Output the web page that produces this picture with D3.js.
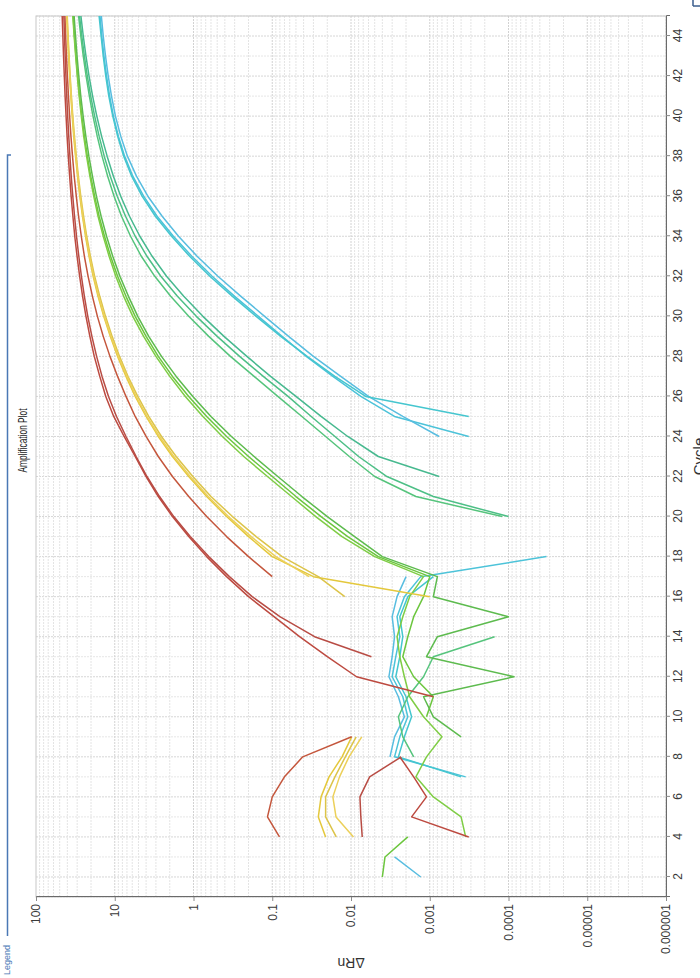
<!DOCTYPE html>
<html>
<head>
<meta charset="utf-8">
<script src="https://cdn.jsdelivr.net/npm/d3@7/dist/d3.min.js"></script>
<style>
  body { margin: 0; background: #fff; }
  svg { display: block; }
  text { font-family: "Liberation Sans", Arial, sans-serif; }
</style>
</head>
<body>
<svg id="chart" width="700" height="978"></svg>
<script>
// Cycle numbers (x categories) and tick labels
const cycles = [1,2,3,4,5,6,7,8,9,10,11,12,13,14,15,16,17,18,19,20,21,22,23,24,25,26,27,28,29,30,31,32,33,34,35,36,37,38,39,40,41,42,43,44,45];
const cycleTicks = [2,4,6,8,10,12,14,16,18,20,22,24,26,28,30,32,34,36,38,40,42,44];
const rnTicks = [100,10,1,0.1,0.01,0.001,0.0001,0.00001,0.000001];
const rnTickLabels = ["100","10","1","0.1","0.01","0.001","0.0001","0.00001","0.000001"];

// ΔRn per cycle for each well (null = not plotted on the log scale)
const redA = [null,null,null,0.081,0.115,0.10,0.07,0.041,0.0098,null,null,null,null,null,null,null,0.10,0.20,0.38,0.68,1.15,1.85,2.8,4.0,5.5,7.2,9.2,11.5,14,16.6,19.2,21.8,24.3,26.6,28.8,30.8,32.7,34.4,36,37.4,38.7,39.9,41,42,42.9];
const redB = [null,null,null,0.00032,0.0017,0.0011,0.0016,0.0024,null,null,0.0009,0.0085,0.02,0.045,0.095,0.2,0.38,0.68,1.15,1.85,2.8,4.0,5.5,7.6,10.3,13,15.5,18.2,20.7,23.2,25.6,27.9,30.1,32.2,34,35.8,37.4,38.9,40.3,41.5,42.7,43.7,44.7,45.6,46.5];
const redC = [null,null,null,0.0072,0.0075,0.0077,0.0058,0.0023,null,null,null,null,0.0055,0.029,0.08,0.18,0.35,0.64,1.1,1.78,2.7,3.9,5.35,7.2,9.5,12,14.5,17,19.5,22,24.3,26.5,28.6,30.6,32.4,34.1,35.7,37.1,38.4,39.6,40.7,41.7,42.6,43.5,44.3];
const yellowA = [null,null,null,0.021,0.026,0.024,0.019,0.013,0.0098,null,null,null,null,null,null,0.001,0.03,0.1,0.2,0.38,0.68,1.15,1.85,2.8,4.0,5.5,7.2,9.2,11.4,13.8,16.3,18.8,21.2,23.5,25.7,27.8,29.7,31.5,33.2,34.7,36.1,37.4,38.6,39.7,40.7];
const yellowB = [null,null,null,0.0154,0.021,0.021,0.016,0.0118,0.0086,null,null,null,null,null,null,0.012,0.026,0.075,0.16,0.32,0.6,1.02,1.66,2.55,3.7,5.1,6.8,8.7,10.8,13.1,15.5,18,20.4,22.7,24.9,27,29,30.8,32.5,34.1,35.5,36.8,38,39.1,40.1];
const yellowC = [null,null,null,0.0093,0.0155,0.017,0.014,0.0106,0.0073,null,null,null,null,null,null,null,0.034,0.09,0.185,0.36,0.65,1.1,1.78,2.7,3.9,5.35,7.0,9.0,11.2,13.6,16,18.5,20.9,23.2,25.4,27.5,29.4,31.2,32.9,34.4,35.8,37.1,38.3,39.4,40.4];
const greenA = [null,0.004,0.0037,0.0019,null,null,null,null,null,0.0011,0.0009,0.0016,0.0022,0.0019,0.0016,0.0012,0.001,0.0045,0.011,0.024,0.05,0.1,0.2,0.38,0.68,1.15,1.85,2.8,4.0,5.5,7.2,9.2,11.3,13.5,15.8,18,20.2,22.3,24.3,26.2,28,29.6,31.1,32.5,33.8];
const greenB = [null,null,null,0.00035,0.0004,0.0009,0.0015,0.0011,0.0007,0.0012,0.0018,0.0021,0.0024,0.0026,0.0022,0.0018,0.0012,0.005,0.013,0.028,0.057,0.115,0.23,0.43,0.76,1.27,2.0,3.0,4.3,5.9,7.7,9.7,11.8,14,16.3,18.5,20.7,22.8,24.8,26.6,28.3,29.9,31.4,32.8,34.1];
const greenC = [null,null,null,null,null,null,null,null,0.0004,0.0009,0.0012,0.000085,0.0011,0.0008,0.0001,0.0009,0.0008,0.004,0.009,0.02,0.042,0.085,0.17,0.33,0.6,1.02,1.66,2.55,3.7,5.1,6.7,8.6,10.6,12.7,14.9,17.1,19.2,21.3,23.3,25.2,27,28.6,30.1,31.5,32.8];
const tealA = [null,null,null,null,null,null,null,null,null,null,null,null,null,null,null,null,null,null,null,0.0001,0.0009,0.0035,0.008,0.016,0.032,0.063,0.13,0.26,0.5,0.92,1.6,2.6,3.9,5.5,7.3,9.3,11.4,13.6,15.8,18,20.2,22.3,24.3,26.2,28];
const tealB = [null,null,null,null,null,null,null,null,null,null,null,null,null,null,null,null,null,null,null,null,null,0.00076,0.0045,0.011,0.024,0.05,0.105,0.21,0.41,0.76,1.33,2.2,3.35,4.8,6.5,8.4,10.4,12.5,14.7,16.9,19.1,21.2,23.2,25.1,26.9];
const tealC = [null,null,null,null,null,null,null,0.0016,0.0022,0.0025,0.0019,0.0012,0.0009,0.00015,null,null,null,null,null,0.00012,0.0015,0.005,0.0105,0.021,0.042,0.085,0.17,0.34,0.64,1.15,1.95,3.1,4.6,6.3,8.2,10.2,12.3,14.5,16.7,18.9,21,23.1,25.1,27,28.8];
const cyanA = [null,null,null,null,null,null,0.00035,0.0028,0.0024,0.0019,0.0022,0.003,0.0027,0.0024,0.0026,0.0021,0.0013,0.000033,null,null,null,null,null,0.00032,0.0028,0.0075,0.017,0.037,0.075,0.15,0.3,0.58,1.05,1.8,2.9,4.3,5.9,7.5,9.0,10.4,11.6,12.7,13.7,14.6,15.4];
const cyanB = [null,0.0013,0.0028,null,null,null,null,0.0032,0.0028,0.0021,0.0025,0.0033,0.003,0.0028,0.003,0.0026,0.002,null,null,null,null,null,null,0.00076,0.0022,0.006,0.0135,0.03,0.062,0.125,0.25,0.49,0.9,1.55,2.5,3.8,5.3,6.9,8.4,9.8,11.0,12.1,13.1,14.0,14.8];
const cyanC = [null,null,null,null,null,null,0.0004,0.0025,0.0021,0.0017,0.002,0.0027,0.0024,0.0022,0.0024,0.0019,0.0009,null,null,null,null,null,null,null,0.00032,0.0065,0.016,0.036,0.078,0.16,0.32,0.62,1.12,1.9,3.05,4.5,6.1,7.7,9.2,10.6,11.9,13,14,14.9,15.8];

const wells = [
  { values: cyanA,   color: "#4cc3d9" },
  { values: cyanB,   color: "#58bde0" },
  { values: cyanC,   color: "#45c6cf" },
  { values: tealA,   color: "#4dbf86" },
  { values: tealB,   color: "#47b98f" },
  { values: tealC,   color: "#55c47c" },
  { values: greenA,  color: "#6cc63e" },
  { values: greenB,  color: "#7fcd45" },
  { values: greenC,  color: "#5dbb4e" },
  { values: yellowA, color: "#e4c83c" },
  { values: yellowB, color: "#dcc44a" },
  { values: yellowC, color: "#ecd05a" },
  { values: redA,    color: "#c4563c" },
  { values: redB,    color: "#bd4a40" },
  { values: redC,    color: "#b84c44" }
];

// The plot is laid out in landscape (978 x 700) and turned a quarter turn
const W = 978;
const svg = d3.select("#chart");
const frame = svg.append("g").attr("transform", `translate(0,${W}) rotate(-90)`);

const plot = { left: 81, right: 962, top: 36, bottom: 666 };
const x = d3.scaleLinear().domain([1, 45]).range([plot.left, plot.right]);
const y = d3.scaleLog().domain([1e-6, 100]).range([plot.bottom, plot.top]);

// grid: one dotted line per cycle
frame.append("g").selectAll("line").data(cycles).join("line")
  .attr("x1", d => x(d)).attr("x2", d => x(d))
  .attr("y1", plot.top).attr("y2", plot.bottom)
  .attr("stroke", d => d % 2 === 0 ? "#d6d6d6" : "#e6e6e6")
  .attr("stroke-dasharray", "2,1");

// grid: decades and their 2..9 subdivisions
const logLines = [];
rnTicks.slice(1).forEach(base => {
  for (let m = 1; m <= 9; m++) logLines.push({ v: base * m, major: m === 1 });
});
frame.append("g").selectAll("line").data(logLines).join("line")
  .attr("x1", plot.left).attr("x2", plot.right)
  .attr("y1", d => y(d.v)).attr("y2", d => y(d.v))
  .attr("stroke", d => d.major ? "#d2d2d2" : "#e4e4e4")
  .attr("stroke-dasharray", "2,1");

// plot frame
frame.append("rect")
  .attr("x", plot.left).attr("y", plot.top)
  .attr("width", plot.right - plot.left).attr("height", plot.bottom - plot.top)
  .attr("fill", "none").attr("stroke", "#c8c8c8");

// curves
frame.append("clipPath").attr("id", "plotClip").append("rect")
  .attr("x", plot.left).attr("y", plot.top)
  .attr("width", plot.right - plot.left).attr("height", plot.bottom - plot.top);

const line = d3.line()
  .defined(d => d.v != null && d.v > 0)
  .x(d => x(d.c))
  .y(d => y(d.v));

frame.append("g").attr("clip-path", "url(#plotClip)")
  .selectAll("path").data(wells).join("path")
  .attr("d", w => line(cycles.map((c, i) => ({ c, v: w.values[i] }))))
  .attr("fill", "none")
  .attr("stroke", w => w.color)
  .attr("stroke-width", 1.5)
  .attr("stroke-linejoin", "round");

// ΔRn axis
const rnAxis = frame.append("g")
  .attr("transform", `translate(${plot.left},0)`)
  .call(d3.axisLeft(y).tickValues(rnTicks).tickFormat((d, i) => rnTickLabels[i]).tickSize(4).tickPadding(3));

// Cycle axis
const cycAxis = frame.append("g")
  .attr("transform", `translate(0,${plot.bottom})`)
  .call(d3.axisBottom(x).tickValues(cycleTicks).tickSize(4).tickPadding(3));

[rnAxis, cycAxis].forEach(a => {
  a.select(".domain").attr("stroke", "#6a6a6a");
  a.selectAll(".tick line").attr("stroke", "#8a8a8a");
  a.selectAll(".tick text").attr("fill", "#3a3a3a").style("font-size", "12px");
});

// titles
frame.append("text")
  .attr("x", (plot.left + plot.right) / 2 + 16).attr("y", 27)
  .attr("text-anchor", "middle").attr("fill", "#222")
  .style("font-size", "12px")
  .attr("textLength", 64).attr("lengthAdjust", "spacingAndGlyphs")
  .text("Amplification Plot");

frame.append("text")
  .attr("transform", `translate(20,${(plot.top + plot.bottom) / 2}) rotate(-90)`)
  .attr("text-anchor", "middle").attr("fill", "#333")
  .style("font-size", "14px")
  .text("ΔRn");

frame.append("text")
  .attr("x", (plot.left + plot.right) / 2).attr("y", 704)
  .attr("text-anchor", "middle").attr("fill", "#333")
  .style("font-size", "15px")
  .text("Cycle");

// legend group box edge
const legendBlue = "#4a78b5";
frame.append("text")
  .attr("x", 3).attr("y", 10)
  .attr("fill", legendBlue).style("font-size", "9px")
  .text("Legend");
frame.append("path")
  .attr("d", `M42,7.5H823V11`)
  .attr("fill", "none").attr("stroke", legendBlue).attr("stroke-width", 1.5);

// corner of the neighbouring panel
frame.append("path")
  .attr("d", `M972,693H978M972,693V700`)
  .attr("fill", "none").attr("stroke", "#3d5f8f").attr("stroke-width", 1.5);
</script>
</body>
</html>
